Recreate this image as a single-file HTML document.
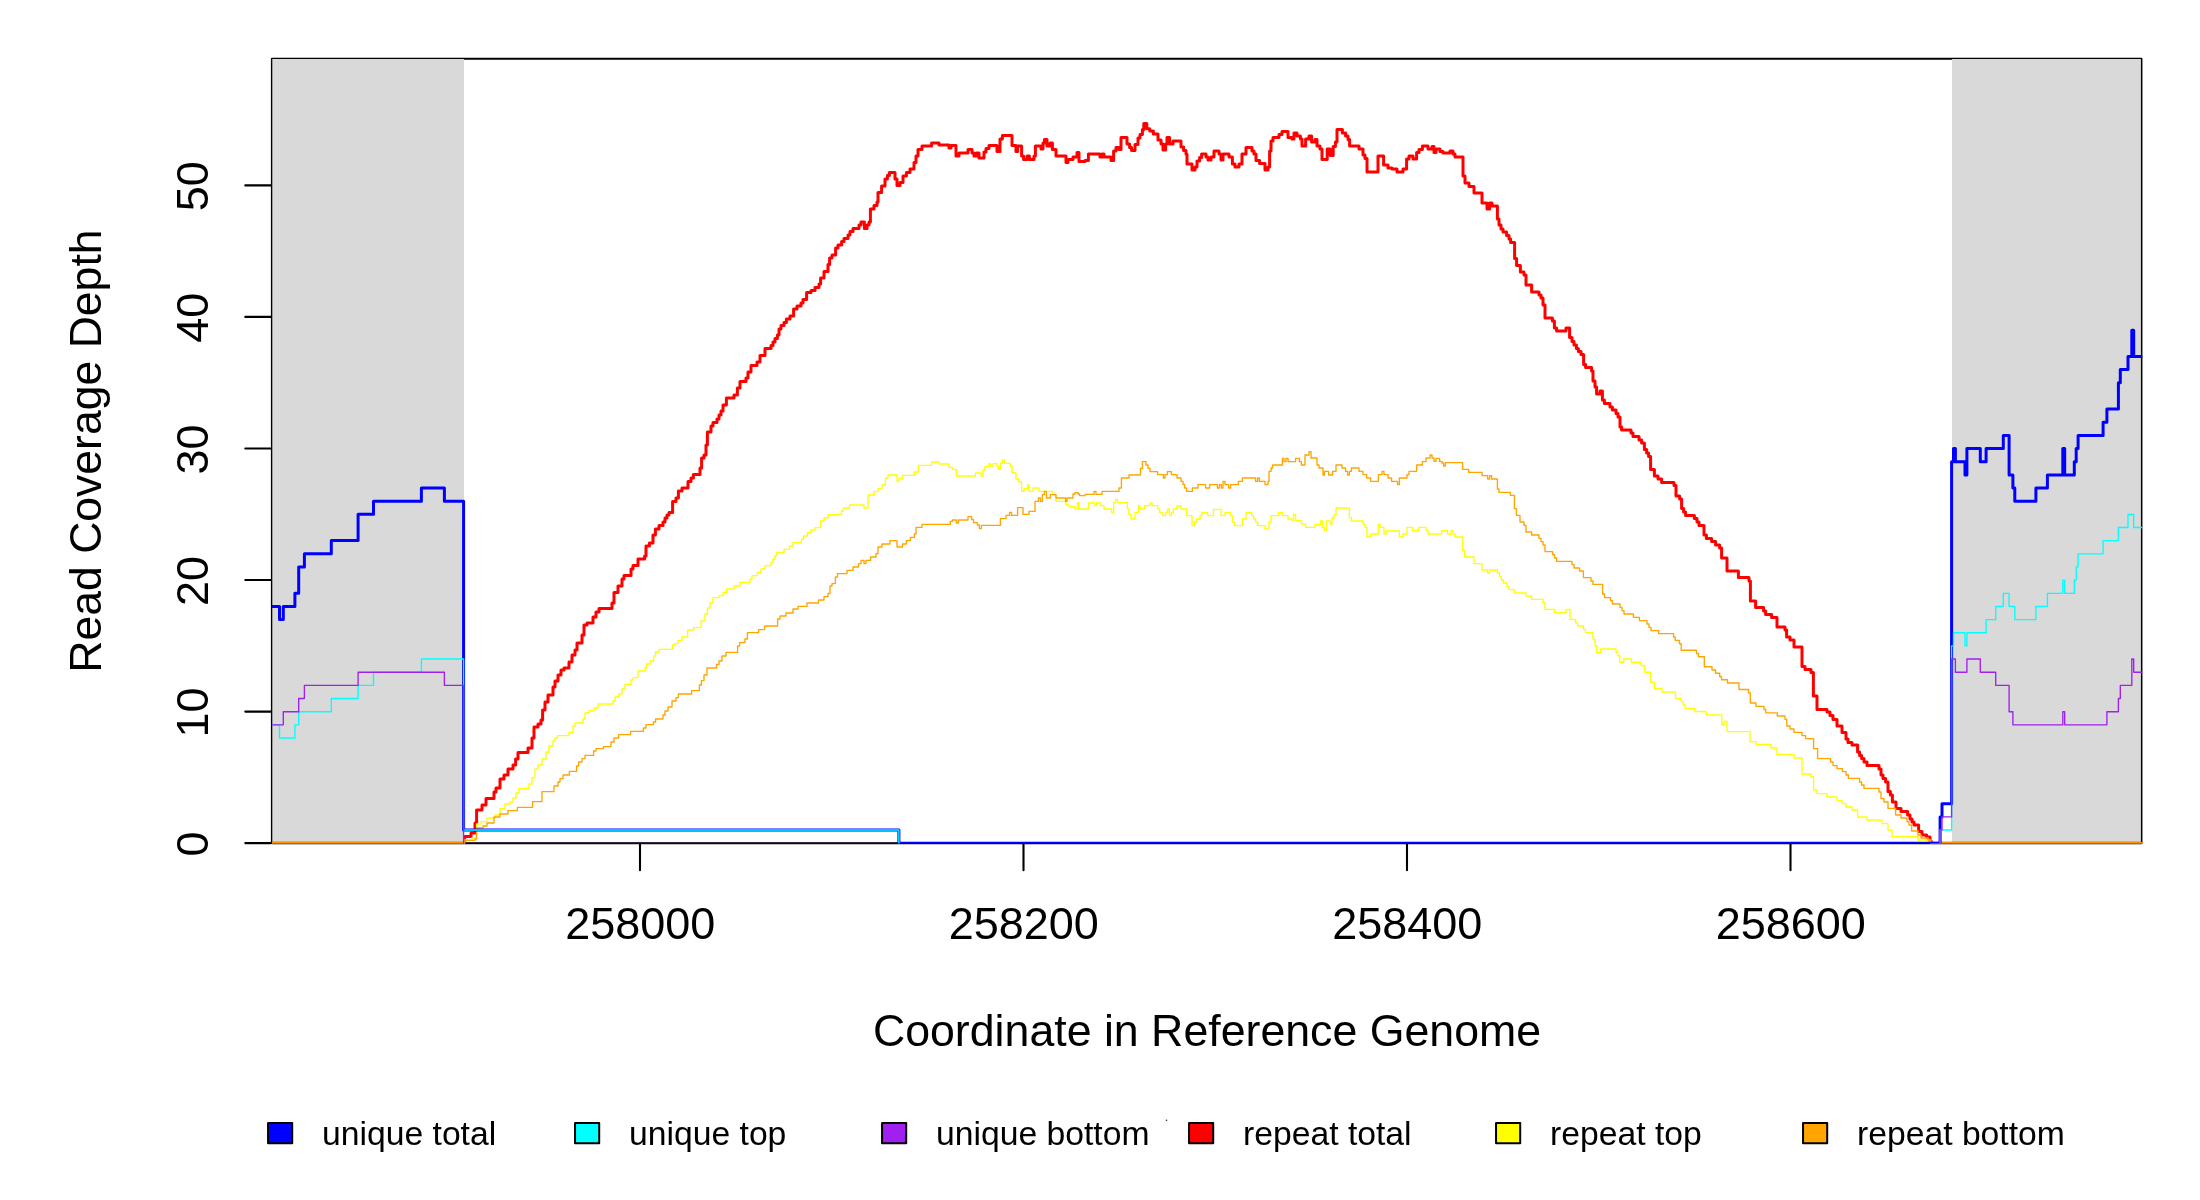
<!DOCTYPE html>
<html><head><meta charset="utf-8"><title>Read Coverage Depth</title>
<style>html,body{margin:0;padding:0;background:#fff}body{width:2200px;height:1200px;overflow:hidden}</style></head>
<body>
<svg width="2200" height="1200" viewBox="0 0 2200 1200" style="display:block;will-change:transform;font-family:'Liberation Sans',Arial,sans-serif">
<rect width="2200" height="1200" fill="#fff"/>
<rect x="271.95" y="58.7" width="1869.45" height="784.55" fill="none" stroke="#000" stroke-width="2.1" stroke-linejoin="round"/>
<rect x="272.3" y="59" width="191.7" height="784.6" fill="#d9d9d9"/>
<rect x="1952" y="59" width="188.9" height="784.6" fill="#d9d9d9"/>
<g stroke="#000" stroke-width="2.1" fill="none" stroke-linecap="round">
<path d="M640,843.1V870.3M1023.5,843.1V870.3M1407,843.1V870.3M1790.5,843.1V870.3"/>
<path d="M245.3,843.1H270.6M245.3,711.6H270.6M245.3,580.0H270.6M245.3,448.5H270.6M245.3,316.9H270.6M245.3,185.4H270.6"/>
</g>
<g font-size="45px" fill="#000" text-anchor="middle">
<text x="640.3" y="939">258000</text>
<text x="1023.8" y="939">258200</text>
<text x="1407.3" y="939">258400</text>
<text x="1790.8" y="939">258600</text>
<text transform="translate(208,844.0) rotate(-90)">0</text>
<text transform="translate(208,712.5) rotate(-90)">10</text>
<text transform="translate(208,580.9) rotate(-90)">20</text>
<text transform="translate(208,449.4) rotate(-90)">30</text>
<text transform="translate(208,317.8) rotate(-90)">40</text>
<text transform="translate(208,186.3) rotate(-90)">50</text>
<text x="1207" y="1046" font-size="44.7px">Coordinate in Reference Genome</text>
<text transform="translate(101,451.1) rotate(-90)" font-size="44.55px">Read Coverage Depth</text>
</g>
<clipPath id="cp"><rect x="271.9" y="58.7" width="1870.4" height="784.9"/></clipPath><g clip-path="url(#cp)">
<path d="M271.5,843.2H464.6V836.4H471.0V833.0H475.0V823.0H476.6V810.0H482.0V805.0H486.0V798.4H494.0V792.0H496.0V788.0H500.0V779.0H504.0V775.0H508.0V769.0H513.0V765.0H515.6V759.0H518.0V752.4H528.0V748.0H532.0V738.0H534.0V727.0H538.0V724.0H541.0V720.0H542.6V710.0H545.0V702.0H548.0V695.0H553.0V687.0H555.0V681.0H558.0V675.0H561.0V670.0H564.0V668.0H569.0V662.0H572.0V655.0H575.0V650.0H577.0V643.0H582.0V635.0H584.0V625.0H587.0V623.0H593.0V617.0H596.0V612.0H599.0V608.4H612.0V603.0H614.0V592.4H618.0V586.0H622.0V579.0H624.0V575.6H631.0V569.0H633.0V565.6H638.0V559.0H644.6V556.0H646.0V546.0H649.4V543.0H653.0V535.0H655.4V529.0H659.0V525.6H663.0V522.0H665.0V518.0H667.0V515.0H669.0V512.4H672.6V501.4H676.0V498.0H678.4V491.0H682.0V488.0H688.0V481.6H691.0V478.0H693.4V474.4H700.0V468.0H701.6V458.0H704.0V455.0H706.0V445.0H707.4V432.0H711.0V426.0H713.0V422.4H717.0V419.0H719.0V415.0H721.0V411.0H723.0V405.0H726.4V398.0H734.0V395.0H737.4V388.0H740.0V381.4H746.0V378.0H748.0V372.0H751.0V365.6H757.0V362.0H760.0V355.6H765.0V348.6H771.0V345.6H773.0V342.0H775.0V338.6H777.4V335.0H779.0V329.0H781.0V325.6H784.0V322.4H786.4V319.0H790.0V316.0H793.6V309.0H797.0V306.0H801.0V303.0H803.0V299.6H806.6V292.6H811.0V290.6H815.0V287.6H819.0V284.0H820.6V278.0H824.0V271.4H828.0V264.6H829.6V258.0H832.0V255.0H835.6V248.0H838.0V245.0H841.6V241.6H844.0V238.6H848.0V235.0H850.0V231.6H853.0V228.4H859.0V225.0H861.0V222.0H864.4V228.4H867.0V225.0H869.0V222.0H870.4V209.0H874.0V205.6H877.0V202.0H878.0V192.4H881.6V186.0H885.0V179.0H887.4V175.6H889.4V172.4H895.0V179.0H897.0V185.6H900.0V182.4H903.0V176.0H906.4V172.6H910.0V169.0H914.0V162.4H916.0V156.0H918.0V149.4H922.0V146.0H931.6V143.0H939.0V145.0H949.0V148.0H951.0V145.6H956.0V156.0H959.0V153.0H968.0V149.6H972.0V153.0H974.0V156.0H976.4V153.0H979.0V158.0H984.0V152.0H986.0V148.4H989.0V145.6H997.0V151.6H1000.0V139.0H1002.4V135.4H1012.0V145.6H1016.0V151.6H1017.6V146.0H1021.6V156.0H1023.6V159.4H1027.0V156.0H1029.4V159.4H1034.0V156.0H1035.4V146.0H1041.0V149.0H1043.0V143.0H1044.4V139.6H1047.0V146.0H1050.0V143.0H1052.4V149.4H1056.0V156.0H1066.0V162.4H1068.0V159.6H1073.0V157.0H1077.0V152.6H1079.0V161.6H1085.0V160.4H1088.4V154.0H1100.0V157.0H1102.0V154.0H1104.0V157.0H1111.0V160.4H1113.6V151.0H1116.0V147.6H1119.0V149.6H1121.0V137.6H1127.0V144.0H1129.6V147.6H1131.6V150.6H1135.0V144.4H1138.0V138.0H1140.0V134.4H1142.4V129.4H1143.8V123.6H1146.8V128.8H1149.8V131.0H1153.4V134.0H1158.0V140.0H1161.0V144.0H1163.0V150.0H1165.6V144.0H1167.0V137.6H1169.6V144.0H1173.0V141.0H1181.0V147.0H1183.6V150.4H1186.0V154.0H1187.0V164.0H1192.0V170.0H1195.0V167.0H1197.0V161.0H1199.6V157.6H1201.6V154.0H1206.0V157.0H1208.0V160.0H1211.0V157.0H1214.0V151.0H1219.0V154.0H1221.0V160.0H1223.0V154.0H1229.0V157.0H1232.4V164.0H1235.0V167.0H1239.0V164.0H1242.0V154.0H1246.0V147.4H1252.0V151.0H1254.0V154.0H1256.0V160.6H1259.6V163.6H1265.0V170.0H1268.0V167.0H1269.6V151.0H1271.0V141.0H1273.0V137.6H1279.0V134.4H1282.0V131.4H1288.0V137.4H1292.0V139.0H1294.0V133.0H1297.0V136.0H1300.4V139.0H1302.0V146.0H1305.6V139.0H1309.0V136.0H1311.6V142.0H1315.0V139.6H1317.0V146.0H1320.0V149.0H1322.0V159.4H1327.2V149.0H1330.2V155.6H1333.2V146.4H1335.4V142.0H1337.0V129.6H1342.4V133.0H1345.6V136.0H1348.0V139.4H1349.6V146.0H1359.0V149.0H1363.0V155.0H1365.0V158.6H1367.0V172.0H1378.0V156.0H1383.6V165.0H1388.0V168.0H1392.0V169.0H1397.0V172.0H1403.0V169.0H1406.6V159.0H1409.0V156.0H1413.0V159.0H1416.6V152.4H1419.0V149.4H1422.4V146.0H1428.0V149.0H1432.0V146.4H1434.0V152.4H1436.0V149.0H1440.0V151.6H1443.0V153.0H1450.0V151.0H1453.0V154.0H1455.0V157.0H1463.0V176.0H1465.0V183.0H1469.0V186.4H1474.0V193.0H1482.0V203.0H1487.0V209.0H1489.6V203.0H1492.0V206.0H1497.4V219.0H1499.0V225.0H1501.0V229.0H1503.0V232.0H1506.6V235.6H1509.0V239.0H1510.6V242.4H1514.6V258.6H1516.6V265.6H1520.4V272.0H1524.0V275.0H1526.0V285.0H1531.6V292.0H1539.0V295.0H1541.0V298.0H1543.0V305.0H1545.0V318.0H1552.4V321.0H1554.4V328.0H1556.6V331.0H1566.0V328.0H1569.6V337.6H1572.0V341.6H1574.0V345.0H1576.4V348.4H1578.4V351.6H1581.0V354.6H1583.6V364.4H1585.6V367.6H1591.6V371.0H1593.0V381.0H1595.0V387.0H1596.6V394.0H1600.0V391.0H1602.4V400.0H1604.4V403.4H1610.0V407.0H1612.4V410.0H1616.0V413.6H1618.0V417.0H1620.0V427.0H1621.6V430.0H1631.0V433.0H1633.0V436.4H1639.0V440.0H1641.6V443.0H1644.4V449.6H1646.6V453.0H1648.6V456.6H1650.6V469.6H1654.4V476.0H1658.0V479.0H1661.6V482.4H1674.0V485.4H1676.0V496.0H1679.6V499.0H1681.6V508.6H1683.6V512.0H1685.6V515.4H1694.4V518.4H1697.0V522.0H1699.0V525.4H1704.0V535.0H1706.4V538.4H1711.6V541.6H1715.6V545.0H1719.6V548.0H1721.6V558.0H1722.0H1727.0V571.0H1738.4V577.6H1749.0V581.0H1750.4V601.0H1755.6V607.4H1763.6V611.0H1765.6V614.4H1771.6V617.4H1777.0V627.0H1785.0V630.0H1786.6V637.0H1790.0V640.0H1794.0V647.0H1802.0V666.6H1805.0V669.6H1811.0V672.6H1813.4V696.0H1817.0V709.4H1827.0V712.0H1830.0V715.6H1833.0V719.6H1837.0V726.0H1842.0V732.4H1846.0V739.0H1848.0V742.4H1852.0V745.0H1857.6V752.0H1859.6V755.4H1861.6V758.6H1864.0V762.0H1867.0V765.4H1879.0V769.0H1881.0V775.0H1883.0V778.6H1885.6V782.0H1888.0V791.4H1890.4V795.0H1892.4V802.0H1896.0V808.4H1901.0V811.6H1907.6V815.0H1910.0V819.0H1912.0V822.0H1914.0V825.0H1918.6V831.6H1922.0V835.0H1926.6V837.0H1930.0V841.0H1931.2V843.0H1932.7V843.2H2142.5" fill="none" stroke="#ff0000" stroke-width="3" stroke-linejoin="round" stroke-linecap="round"/>
<path d="M271.5,843.2H464.6V840.0H472.0V838.0H476.0V836.0H476.6V824.0H481.0V821.6H487.0V818.0H495.0V815.0H500.0V808.6H505.0V804.0H510.0V802.0H513.0V798.0H516.0V793.0H519.0V788.6H529.0V784.0H532.0V777.6H535.0V769.0H538.0V765.0H542.0V759.0H546.0V752.0H549.0V746.0H553.0V741.0H555.0V738.0H557.4V735.6H569.0V732.4H573.0V726.0H575.0V723.0H583.0V719.0H585.0V713.0H589.0V710.6H594.0V708.0H598.0V704.0H613.0V701.0H615.0V697.0H619.0V694.0H622.0V689.0H625.0V684.4H631.0V680.0H633.0V677.6H638.0V671.0H645.0V668.0H646.6V664.0H650.0V661.0H653.6V656.0H655.6V652.0H659.0V649.4H672.6V645.0H674.4V643.6H678.0V640.4H682.0V637.0H687.6V630.0H693.6V627.6H701.0V621.0H705.0V614.0H707.4V608.0H710.0V603.0H713.0V597.6H719.0V595.6H723.0V592.4H726.6V589.0H734.0V586.0H740.0V582.4H750.0V579.0H752.0V575.6H757.4V572.4H761.0V569.0H765.0V565.6H771.0V562.4H773.0V559.0H775.0V555.6H776.6V552.6H784.0V549.4H789.4V546.0H793.0V542.6H801.4V539.4H803.4V536.0H807.4V532.6H811.0V530.0H815.0V527.6H820.6V521.0H824.0V518.0H828.0V514.6H841.4V511.0H843.4V508.0H849.4V505.0H864.0V508.0H868.0V495.0H874.0V491.6H878.0V488.4H882.0V485.0H885.4V478.0H888.0V475.0H897.0V481.6H899.0V478.4H902.4V475.4H914.4V472.0H918.4V465.4H931.6V462.0H939.4V464.0H949.0V467.4H952.4V469.4H956.4V476.0H975.4V473.0H981.0V476.0H983.0V470.0H985.0V466.4H989.0V463.6H990.6V466.0H993.0V463.6H997.0V466.4H998.4V469.4H1000.6V463.0H1002.4V460.0H1004.4V463.4H1010.4V466.4H1012.0V473.0H1016.0V479.0H1018.4V481.6H1021.6V491.4H1024.0V488.4H1027.6V485.0H1029.0V491.4H1033.0V488.0H1039.0V491.4H1052.4V495.0H1056.0V501.4H1066.0V505.0H1069.0V506.6H1075.0V509.0H1077.6V502.6H1079.0V509.0H1088.6V503.0H1094.4V505.6H1096.4V503.0H1100.6V505.6H1104.0V509.0H1111.6V512.6H1113.6V502.6H1115.6V499.4H1117.6V502.6H1127.4V509.0H1129.0V514.6H1131.0V519.0H1135.0V512.4H1138.4V505.6H1140.0V509.0H1144.4V505.6H1150.0V503.0H1152.0V505.6H1157.6V509.0H1159.6V512.4H1163.0V515.6H1165.6V512.4H1167.6V509.0H1169.4V515.6H1171.4V512.4H1173.4V509.0H1177.0V506.0H1181.0V509.0H1186.6V515.6H1192.0V525.6H1194.4V522.0H1196.4V519.0H1200.0V515.6H1202.0V512.6H1207.6V515.6H1213.4V509.4H1221.0V515.6H1225.0V512.6H1230.6V515.6H1232.6V522.0H1234.6V525.6H1242.4V519.0H1246.0V512.6H1251.6V515.6H1253.6V519.0H1255.6V522.0H1257.6V525.6H1265.0V529.0H1269.0V522.0H1271.0V515.6H1278.6V512.6H1282.4V515.6H1288.0V519.0H1292.0V520.6H1293.6V514.4H1295.6V520.6H1301.4V524.0H1305.6V527.4H1315.0V524.4H1320.6V521.0H1322.6V527.4H1324.4V530.6H1326.4V521.0H1330.0V524.0H1332.0V518.0H1334.0V514.6H1336.0V508.0H1349.4V517.6H1351.4V521.0H1363.0V524.0H1365.0V527.4H1367.0V537.0H1370.6V534.0H1378.4V524.4H1380.0V527.4H1384.0V534.0H1386.0V531.0H1399.4V537.0H1403.0V534.0H1407.0V527.4H1412.6V530.6H1418.6V527.4H1426.0V530.6H1428.0V534.0H1441.6V530.6H1447.4V534.0H1451.0V530.6H1453.0V534.0H1455.0V537.0H1462.6V550.0H1464.4V557.0H1474.0V563.6H1482.0V570.0H1487.6V573.0H1489.6V570.0H1497.4V573.0H1499.4V576.6H1501.4V580.0H1503.4V583.0H1507.0V586.4H1509.0V589.6H1514.4V593.0H1526.0V596.0H1531.6V599.4H1543.0V602.6H1545.0V609.4H1554.6V612.6H1566.0V609.4H1570.0V619.4H1575.6V622.6H1577.6V626.0H1583.4V629.4H1585.4V632.6H1593.0V639.3H1595.0V645.7H1596.8V652.5H1600.5V649.0H1616.0V652.5H1617.8V655.7H1619.8V662.2H1623.7V659.0H1631.3V662.2H1641.0V665.5H1644.8V672.2H1650.5V682.0H1654.5V688.7H1662.0V692.0H1675.5V698.5H1681.2V701.5H1683.2V705.0H1685.0V708.3H1694.7V711.5H1706.2V714.8H1721.8V725.0H1724.0V721.5H1727.0V731.6H1750.0V741.6H1756.0V744.4H1771.0V748.0H1777.0V754.4H1794.0V758.0H1802.0V774.0H1811.0V777.0H1813.6V790.0H1817.0V793.6H1827.0V797.0H1837.0V800.4H1842.0V803.6H1846.0V807.0H1852.0V810.0H1857.6V817.0H1867.0V820.0H1882.0V823.6H1888.0V830.0H1892.0V836.6H1918.0V840.0H1930.0V843.0H1931.5V843.2H2142.5" fill="none" stroke="#ffff00" stroke-width="1.35" stroke-linejoin="round" stroke-linecap="round"/>
<path d="M271.5,843.2H464.6V840.4H475.0V839.0H476.6V828.0H483.0V826.0H487.0V823.0H494.0V817.0H500.0V814.0H508.0V810.6H517.4V807.4H532.6V801.6H542.0V791.6H554.0V786.0H558.0V782.0H560.0V778.6H563.0V775.0H569.4V771.4H576.6V766.0H578.6V762.0H582.0V758.6H585.0V755.4H593.6V751.0H596.0V748.6H603.4V746.6H611.0V742.0H614.0V738.0H618.6V734.6H630.6V731.4H643.4V728.0H646.0V724.6H653.4V722.0H655.6V719.0H663.0V715.0H665.0V711.0H668.0V707.0H672.0V701.0H676.0V697.6H678.4V694.0H691.6V690.6H699.4V685.0H701.4V680.6H704.0V675.0H707.0V668.0H716.6V664.4H719.0V661.0H722.0V656.0H726.0V652.4H737.6V646.0H739.6V642.6H745.0V639.0H747.4V632.6H758.6V629.6H764.6V626.0H777.6V619.0H780.0V616.0H786.0V613.0H793.0V609.0H798.0V606.4H807.0V603.0H818.6V600.0H824.0V596.6H828.0V593.4H830.0V586.0H832.0V583.6H835.4V577.0H837.4V573.6H847.0V570.4H853.0V567.0H858.6V563.6H861.0V560.4H864.0V563.6H866.0V560.4H870.6V557.0H876.0V553.6H878.0V547.0H882.0V544.0H890.0V540.6H897.0V547.0H902.6V544.0H906.4V540.6H910.4V537.4H914.4V534.0H916.0V527.4H922.0V524.4H950.4V521.4H952.4V520.0H956.4V523.0H958.4V520.0H968.0V516.6H971.6V519.6H973.6V522.6H977.4V525.0H979.4V528.6H981.4V525.4H1000.4V518.6H1006.0V515.4H1009.6V512.4H1011.6V515.4H1017.6V507.6H1023.0V514.4H1029.0V511.4H1035.0V501.4H1038.4V498.0H1040.4V501.4H1042.4V494.6H1044.4V491.4H1046.4V498.0H1050.4V494.6H1056.0V498.0H1065.6V501.4H1067.0V498.0H1073.0V494.0H1075.0V492.6H1078.0V494.0H1079.6V495.6H1085.0V494.4H1094.0V491.4H1096.0V494.4H1102.0V491.4H1119.0V488.0H1121.4V478.0H1129.0V475.0H1140.4V468.4H1142.4V461.6H1146.0V465.0H1148.0V468.4H1150.0V471.6H1157.6V474.6H1163.4V478.0H1165.0V474.6H1167.4V471.6H1171.4V474.6H1177.0V478.0H1181.0V481.4H1183.0V484.6H1184.6V488.0H1186.6V491.4H1192.4V488.0H1198.0V484.6H1205.6V488.0H1209.6V484.6H1217.4V488.0H1219.4V484.6H1221.4V488.0H1223.0V481.4H1225.0V484.6H1228.6V488.0H1230.6V484.6H1238.4V481.4H1242.4V478.0H1255.6V481.4H1257.6V478.0H1259.4V481.4H1265.0V484.6H1268.0V481.4H1269.0V471.4H1271.0V468.0H1272.6V465.0H1282.4V458.4H1284.0V461.6H1286.0V458.4H1288.0V461.6H1295.6V458.4H1299.4V461.6H1301.4V465.0H1305.0V455.0H1309.0V451.6H1311.0V458.0H1317.0V465.0H1319.0V468.0H1323.0V475.0H1324.4V471.4H1328.6V475.0H1332.6V471.4H1336.0V465.0H1342.0V468.0H1345.6V471.4H1347.6V475.0H1349.4V471.4H1351.4V468.0H1359.0V471.4H1363.0V474.6H1366.6V478.0H1370.6V481.4H1378.4V474.6H1382.0V471.4H1384.0V474.6H1388.0V478.0H1391.6V481.4H1397.6V484.6H1399.4V478.0H1407.0V474.6H1409.0V471.4H1416.6V465.0H1422.4V461.6H1426.0V458.0H1430.0V455.0H1432.0V458.0H1434.0V461.4H1436.0V458.4H1439.6V461.4H1442.0V463.0H1443.6V466.0H1445.4V462.6H1462.6V469.4H1468.6V472.4H1482.0V475.6H1487.6V479.0H1489.6V475.6H1491.6V479.0H1497.4V489.0H1499.0V492.4H1510.4V495.4H1514.4V508.6H1516.4V515.4H1520.0V522.0H1524.0V525.4H1526.0V532.0H1531.6V535.0H1539.0V538.4H1541.0V541.6H1543.0V545.0H1545.0V551.6H1552.6V554.6H1554.6V558.0H1556.6V561.4H1572.0V564.6H1574.0V568.0H1579.6V571.0H1583.4V577.6H1591.0V581.0H1593.0V584.4H1602.6V594.0H1604.6V597.6H1610.4V600.6H1612.4V604.0H1620.0V607.4H1622.0V610.6H1624.0V614.0H1633.4V617.4H1639.4V620.6H1647.0V624.0H1649.0V627.4H1651.0V630.6H1658.6V633.6H1673.6V637.0H1675.2V640.3H1679.5V643.7H1681.2V650.2H1696.5V653.5H1698.5V656.7H1704.3V666.7H1712.0V670.0H1715.5V673.2H1719.7V676.5H1721.5V679.7H1727.5V683.0H1739.0V689.5H1748.5V692.8H1750.3V703.0H1756.0V706.3H1764.0V709.5H1765.8V712.8H1777.3V716.0H1785.0V719.3H1786.8V726.0H1790.0V729.0H1794.0V732.4H1802.0V735.6H1805.6V738.6H1813.6V748.6H1817.6V758.6H1830.6V762.0H1833.0V765.6H1837.0V768.6H1842.4V771.6H1846.0V775.0H1848.4V778.4H1859.6V782.0H1861.6V785.0H1864.0V788.4H1879.0V792.0H1881.0V798.6H1884.0V802.0H1888.0V808.4H1895.6V815.0H1901.0V818.0H1907.0V821.6H1909.0V825.0H1911.6V831.0H1918.0V835.0H1921.0V838.0H1928.0V840.0H1931.0V843.0H1932.5V843.2H2142.5" fill="none" stroke="#ffa500" stroke-width="1.35" stroke-linejoin="round" stroke-linecap="round"/>
<path d="M271.5,606.4H279.5V619.6H283.3V606.4H294.9V593.3H298.7V566.9H304.4V553.8H331.3V540.6H358.1V514.3H373.5V501.2H421.4V488.0H444.4V501.2H463.6V830.0H898.9V843.2H1940.1V816.9H1942.0V803.7H1951.6V461.7H1953.5V448.6H1955.4V461.7H1965.0V474.9H1966.9V448.6H1980.3V461.7H1986.1V448.6H2003.3V435.4H2009.1V474.9H2012.9V488.0H2014.8V501.2H2035.9V488.0H2047.4V474.9H2062.8V448.6H2064.7V474.9H2074.3V461.7H2076.2V448.6H2078.1V435.4H2103.1V422.2H2106.9V409.1H2118.4V382.8H2120.3V369.6H2128.0V356.5H2131.8V330.2H2133.7V356.5H2142.5" fill="none" stroke="#0000ff" stroke-width="3" stroke-linejoin="round" stroke-linecap="round"/>
<path d="M271.5,724.8H279.5V738.0H294.9V724.8H298.7V711.7H331.3V698.5H358.1V685.3H373.5V672.2H421.4V659.0H463.6V830.0H898.9V843.2M1940.1,843.2H1940.1V830.0H1951.6V645.9H1953.5V632.7H1965.0V645.9H1966.9V632.7H1986.1V619.6H1995.7V606.4H2003.3V593.3H2009.1V606.4H2014.8V619.6H2035.9V606.4H2047.4V593.3H2062.8V580.1H2064.7V593.3H2074.3V580.1H2076.2V566.9H2078.1V553.8H2103.1V540.6H2118.4V527.5H2128.0V514.3H2133.7V527.5H2142.5" fill="none" stroke="#00ffff" stroke-width="1.35" stroke-linejoin="round" stroke-linecap="round"/>
<path d="M271.5,724.8H283.3V711.7H298.7V698.5H304.4V685.3H358.1V672.2H444.4V685.3H463.6V843.2M1940.1,843.2H1940.1V830.0H1942.0V816.9H1951.6V659.0H1955.4V672.2H1966.9V659.0H1980.3V672.2H1995.7V685.3H2009.1V711.7H2012.9V724.8H2062.8V711.7H2064.7V724.8H2106.9V711.7H2118.4V698.5H2120.3V685.3H2131.8V659.0H2133.7V672.2H2142.5" fill="none" stroke="#a020f0" stroke-width="1.35" stroke-linejoin="round" stroke-linecap="round"/>
<path d="M465.5,843.3H898" stroke="#2b0a45" stroke-width="1.7" fill="none"/>
</g>
<path d="M272.3,843.5H464M1941.5,843.5H2142" stroke="#000" stroke-opacity="0.3" stroke-width="1" fill="none"/>
<circle cx="1166.5" cy="1120.3" r="0.8" fill="#222"/>
<g font-size="33.7px" fill="#000">
<rect x="268.05" y="1123.1" width="24.15" height="20.15" fill="#0000ff" stroke="#000" stroke-width="2" stroke-linejoin="round"/>
<text x="322" y="1145">unique total</text>
<rect x="575.05" y="1123.1" width="24.15" height="20.15" fill="#00ffff" stroke="#000" stroke-width="2" stroke-linejoin="round"/>
<text x="629" y="1145">unique top</text>
<rect x="882.05" y="1123.1" width="24.15" height="20.15" fill="#a020f0" stroke="#000" stroke-width="2" stroke-linejoin="round"/>
<text x="936" y="1145">unique bottom</text>
<rect x="1189.05" y="1123.1" width="24.15" height="20.15" fill="#ff0000" stroke="#000" stroke-width="2" stroke-linejoin="round"/>
<text x="1243" y="1145">repeat total</text>
<rect x="1496.05" y="1123.1" width="24.15" height="20.15" fill="#ffff00" stroke="#000" stroke-width="2" stroke-linejoin="round"/>
<text x="1550" y="1145">repeat top</text>
<rect x="1803.05" y="1123.1" width="24.15" height="20.15" fill="#ffa500" stroke="#000" stroke-width="2" stroke-linejoin="round"/>
<text x="1857" y="1145">repeat bottom</text>
</g>
</svg>
</body></html>
